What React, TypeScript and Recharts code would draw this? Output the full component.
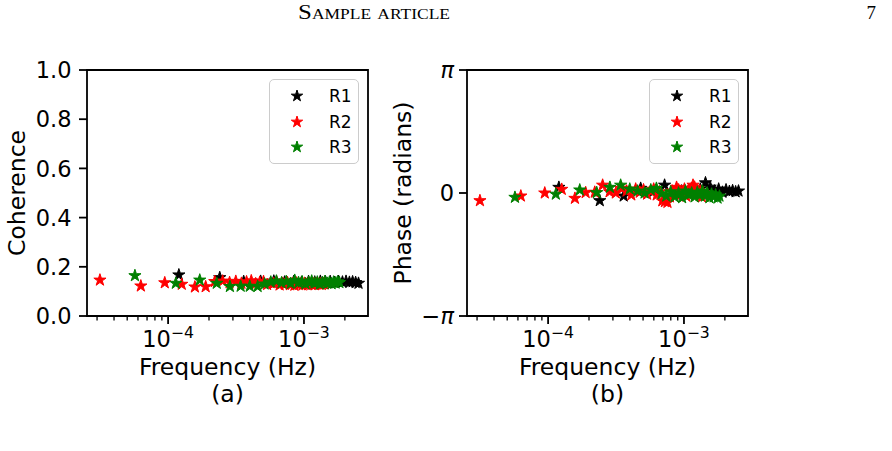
import React from 'react';
import { ScatterChart, Scatter, XAxis, YAxis, ReferenceArea, Legend, Label } from 'recharts';

const FONT = '"DejaVu Sans", sans-serif';
const FS = 22.5;
const LABEL_FS = 23.5;
const LEGEND_FS = 17;

// R1 record: frequency bins (Hz), coherence and phase (rad)
const r1Freq = [0.00012, 0.00024, 0.00036, 0.00048, 0.0006, 0.00072, 0.00084, 0.00096, 0.00108, 0.0012, 0.00132, 0.00144, 0.00156, 0.00168, 0.0018, 0.00192, 0.00204, 0.00216, 0.00228, 0.0024, 0.00252];
const r1Coherence = [0.167, 0.156, 0.140, 0.141, 0.142, 0.138, 0.140, 0.137, 0.140, 0.138, 0.141, 0.139, 0.140, 0.136, 0.140, 0.138, 0.141, 0.137, 0.139, 0.136, 0.133];
const r1Phase = [0.145, -0.196, -0.077, 0.12, 0.05, 0.2, 0.0, 0.05, 0.02, 0.08, 0.1, 0.26, 0.15, 0.05, 0.1, 0.02, 0.08, 0.04, 0.06, 0.03, 0.05];

// R2 record
const r2Freq = [0.0000315, 0.000063, 0.0000945, 0.000126, 0.0001575, 0.000189, 0.0002205, 0.000252, 0.0002835, 0.000315, 0.0003465, 0.000378, 0.0004095, 0.000441, 0.0004725, 0.000504, 0.0005355, 0.000567, 0.0005985, 0.00063, 0.0006615, 0.000693, 0.0007245, 0.000756, 0.0007875, 0.000819, 0.0008505, 0.000882, 0.0009135, 0.000945, 0.0009765, 0.001008, 0.0010395, 0.001071, 0.0011025, 0.001134, 0.0011655, 0.001197, 0.0012285, 0.00126, 0.0012915, 0.001323, 0.0013545, 0.001386, 0.0014175];
const r2Coherence = [0.146, 0.122, 0.135, 0.129, 0.118, 0.119, 0.140, 0.142, 0.136, 0.141, 0.133, 0.139, 0.143, 0.131, 0.137, 0.140, 0.128, 0.135, 0.132, 0.138, 0.126, 0.133, 0.129, 0.136, 0.127, 0.131, 0.125, 0.134, 0.128, 0.130, 0.126, 0.133, 0.129, 0.127, 0.132, 0.128, 0.131, 0.127, 0.130, 0.133, 0.129, 0.131, 0.128, 0.132, 0.130];
const r2Phase = [-0.196, -0.077, 0.0, 0.094, -0.136, 0.01, 0.02, 0.2, 0.03, 0.0, 0.12, 0.05, -0.05, 0.1, 0.02, 0.08, -0.03, 0.05, 0.1, -0.05, 0.03, -0.2, -0.22, -0.24, -0.1, 0.05, 0.0, 0.145, 0.08, -0.05, 0.02, 0.1, -0.08, 0.05, 0.0, 0.12, 0.2, 0.15, -0.05, 0.05, -0.02, 0.03, -0.1, 0.0, -0.05];

// R3 record
const r3Freq = [0.000057, 0.000114, 0.000171, 0.000228, 0.000285, 0.000342, 0.000399, 0.000456, 0.000513, 0.00057, 0.000627, 0.000684, 0.000741, 0.000798, 0.000855, 0.000912, 0.000969, 0.001026, 0.001083, 0.00114, 0.001197, 0.001254, 0.001311, 0.001368, 0.001425, 0.001482, 0.001539, 0.001596, 0.001653, 0.00171, 0.001767, 0.001824];
const r3Coherence = [0.164, 0.133, 0.146, 0.133, 0.120, 0.121, 0.121, 0.120, 0.130, 0.138, 0.142, 0.135, 0.140, 0.132, 0.145, 0.136, 0.139, 0.131, 0.137, 0.142, 0.134, 0.138, 0.130, 0.136, 0.140, 0.133, 0.137, 0.131, 0.138, 0.134, 0.139, 0.136];
const r3Phase = [-0.11, -0.03, 0.077, 0.01, 0.145, 0.2, 0.1, 0.05, 0.0, 0.08, 0.12, -0.02, -0.08, 0.03, -0.1, 0.0, -0.12, 0.05, -0.05, 0.0, -0.1, 0.02, -0.06, 0.05, -0.08, 0.0, -0.12, -0.03, -0.1, -0.05, -0.13, -0.08];

const seriesNames = ['R1', 'R2', 'R3'];
const seriesColors = ['#000000', '#ff0000', '#008000'];

// frequency axis (log)
const X_MIN = 2.53e-5;
const X_MAX = 2.96e-3;
const xTickValues = [3e-5, 4e-5, 5e-5, 6e-5, 7e-5, 8e-5, 9e-5, 1e-4, 2e-4, 3e-4, 4e-4, 5e-4, 6e-4, 7e-4, 8e-4, 9e-4, 1e-3, 2e-3];

const coherenceTicks = [0, 0.2, 0.4, 0.6, 0.8, 1.0];
const phaseTicks = [-Math.PI, 0, Math.PI];

const rows = (freq: number[], vals: number[]) => freq.map((f, i) => ({ f, v: vals[i] }));

const coherenceSeries = [rows(r1Freq, r1Coherence), rows(r2Freq, r2Coherence), rows(r3Freq, r3Coherence)];
const phaseSeries = [rows(r1Freq, r1Phase), rows(r2Freq, r2Phase), rows(r3Freq, r3Phase)];

function starPath(cx: number, cy: number, r: number) {
  const inner = r * 0.381966;
  let d = '';
  for (let i = 0; i < 10; i++) {
    const a = -Math.PI / 2 + (i * Math.PI) / 5;
    const rr = i % 2 === 0 ? r : inner;
    d += (i === 0 ? 'M' : 'L') + (cx + rr * Math.cos(a)).toFixed(2) + ',' + (cy + rr * Math.sin(a)).toFixed(2);
  }
  return d + 'Z';
}

const Star = ({ cx, cy, color, r = 6.4 }: any) => (
  <path d={starPath(cx, cy, r)} fill={color} stroke={color} strokeWidth={1} strokeLinejoin="round" />
);

const XTick = ({ x, y, payload }: any) => {
  const v = payload.value;
  const lg = Math.log10(v);
  const exp = Math.round(lg);
  const major = Math.abs(lg - exp) < 1e-6;
  return (
    <g>
      <line x1={x} x2={x} y1={y} y2={y + (major ? 8 : 4.5)} stroke="#000" strokeWidth={major ? 1.8 : 1.3} />
      {major && (
        <text x={x} y={y + 31} textAnchor="middle" fontFamily={FONT} fontSize={FS} fill="#000">
          <tspan>10</tspan>
          <tspan dy={-9} fontSize={15.7}>{'\u2212' + Math.abs(exp)}</tspan>
        </text>
      )}
    </g>
  );
};

const CoherenceTick = ({ x, y, payload }: any) => (
  <g>
    <line x1={x} x2={x - 8} y1={y} y2={y} stroke="#000" strokeWidth={1.8} />
    <text x={x - 15.5} y={y} dy="0.36em" textAnchor="end" fontFamily={FONT} fontSize={FS} fill="#000">
      {Number(payload.value).toFixed(1)}
    </text>
  </g>
);

const PhaseTick = ({ x, y, payload }: any) => {
  const v = payload.value;
  return (
    <g>
      <line x1={x} x2={x - 8} y1={y} y2={y} stroke="#000" strokeWidth={1.8} />
      <text x={x - 13} y={y} dy="0.36em" textAnchor="end" fontFamily={FONT} fontSize={FS} fill="#000">
        {v < 0 && <tspan>{'\u2212'}</tspan>}
        {v === 0 ? <tspan>0</tspan> : <tspan fontStyle="italic">π</tspan>}
      </text>
    </g>
  );
};

const LegendBox = ({ payload }: any) => (
  <div
    style={{
      position: 'relative',
      width: 90,
      height: 85,
      boxSizing: 'border-box',
      border: '1.3px solid #cccccc',
      borderRadius: 5,
      background: 'rgba(255,255,255,0.8)',
    }}
  >
    {(payload || []).map((e: any, i: number) => (
      <div key={e.value} style={{ position: 'absolute', left: 0, top: 16 + i * 25.5 - 12, height: 24, width: 90 }}>
        <svg width={90} height={24} style={{ position: 'absolute', left: 0, top: 0 }}>
          <Star cx={27} cy={12} r={6} color={e.color || seriesColors[i]} />
          <text x={59} y={12} dy="0.36em" fontFamily={FONT} fontSize={LEGEND_FS} fill="#000">
            {e.value}
          </text>
        </svg>
      </div>
    ))}
  </div>
);

type PanelProps = {
  data: { f: number; v: number }[][];
  yDomain: [number, number];
  yTicks: number[];
  yTick: any;
  yLabel: string;
  yLabelX: number;
  caption: string;
};

const Panel = ({ data, yDomain, yTicks, yTick, yLabel, yLabelX, caption }: PanelProps) => (
  <ScatterChart width={380} height={420} margin={{ top: 70, right: 12, bottom: 24, left: 0 }}>
    <XAxis
      dataKey="f"
      type="number"
      scale="log"
      domain={[X_MIN, X_MAX]}
      allowDataOverflow
      ticks={xTickValues}
      interval={0}
      tick={<XTick />}
      tickLine={false}
      axisLine={false}
      tickSize={0}
      tickMargin={0}
      height={80}
    >
      <Label
        content={(p: any) => {
          const vb = p.viewBox;
          const cx = vb.x + vb.width / 2;
          return (
            <g>
              <text x={cx} y={vb.y + 59} textAnchor="middle" fontFamily={FONT} fontSize={LABEL_FS} fill="#000">
                Frequency (Hz)
              </text>
              <text x={cx} y={vb.y + 86} textAnchor="middle" fontFamily={FONT} fontSize={LABEL_FS} fill="#000">
                {caption}
              </text>
            </g>
          );
        }}
      />
    </XAxis>
    <YAxis
      dataKey="v"
      type="number"
      domain={yDomain}
      allowDataOverflow
      ticks={yTicks}
      interval={0}
      tick={yTick}
      tickLine={false}
      axisLine={false}
      tickSize={0}
      tickMargin={0}
      width={87}
    >
      <Label
        content={(p: any) => {
          const vb = p.viewBox;
          const x = vb.x + yLabelX;
          const y = vb.y + vb.height / 2;
          return (
            <text x={x} y={y} transform={`rotate(-90 ${x} ${y})`} textAnchor="middle" fontFamily={FONT} fontSize={LABEL_FS} fill="#000">
              {yLabel}
            </text>
          );
        }}
      />
    </YAxis>
    <ReferenceArea x1={X_MIN} x2={X_MAX} y1={yDomain[0]} y2={yDomain[1]} fill="none" fillOpacity={0} stroke="#000" strokeWidth={1.8} />
    {data.map((d, i) => (
      <Scatter
        key={seriesNames[i]}
        name={seriesNames[i]}
        data={d}
        fill={seriesColors[i]}
        isAnimationActive={false}
        shape={(p: any) => <Star cx={p.cx} cy={p.cy} color={seriesColors[i]} />}
      />
    ))}
    <Legend
      layout="horizontal"
      verticalAlign="middle"
      align="center"
      content={<LegendBox />}
      wrapperStyle={{ left: 269, top: 79, width: 90, height: 85 }}
    />
  </ScatterChart>
);

export default function App() {
  return (
    <div style={{ position: 'absolute', left: 0, top: 0, width: 892, height: 451, background: '#fff', overflow: 'hidden' }}>
      <svg width={892} height={30} style={{ position: 'absolute', left: 0, top: 0 }}>
        <text
          x={298}
          y={19}
          textLength={152}
          lengthAdjust="spacingAndGlyphs"
          fontFamily='"Liberation Serif", serif'
          fontSize={20}
          style={{ fontVariant: 'small-caps' }}
          fill="#000"
        >
          Sample article
        </text>
        <text x={876} y={19} textAnchor="end" fontFamily='"Liberation Serif", serif' fontSize={19} fill="#000">
          7
        </text>
      </svg>
      <div style={{ position: 'absolute', left: 0, top: 0 }}>
        <Panel
          data={coherenceSeries}
          yDomain={[0, 1]}
          yTicks={coherenceTicks}
          yTick={<CoherenceTick />}
          yLabel="Coherence"
          yLabelX={25}
          caption="(a)"
        />
      </div>
      <div style={{ position: 'absolute', left: 380, top: 0 }}>
        <Panel
          data={phaseSeries}
          yDomain={[-Math.PI, Math.PI]}
          yTicks={phaseTicks}
          yTick={<PhaseTick />}
          yLabel="Phase (radians)"
          yLabelX={31}
          caption="(b)"
        />
      </div>
    </div>
  );
}
